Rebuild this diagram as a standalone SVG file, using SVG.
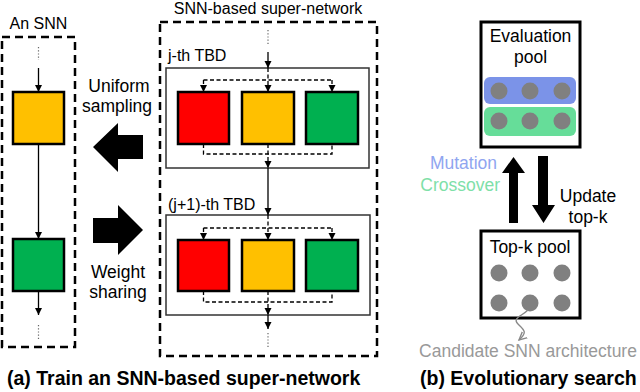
<svg xmlns="http://www.w3.org/2000/svg" width="640" height="392" viewBox="0 0 640 392">
<style>
text{font-family:"Liberation Sans",Arial,sans-serif;fill:#000}
.lbl{font-size:17.5px}
.cap{font-size:19.5px;font-weight:bold}
.outer{fill:none;stroke:#000;stroke-width:2.5;stroke-dasharray:8,5}
.tbd{fill:#fff;stroke:#333;stroke-width:1.5}
.blk{stroke:#000;stroke-width:2.5}
.red{fill:#FF0000}.yel{fill:#FFC000}.grn{fill:#00B050}
.ln{fill:none;stroke:#000;stroke-width:1.3}
.dl{fill:none;stroke:#000;stroke-width:1.3;stroke-dasharray:4,2.5}
.dot{fill:none;stroke:#666;stroke-width:1.2;stroke-dasharray:1.2,2}
.pool{fill:#fff;stroke:#000;stroke-width:3}
.c{fill:#808080}
</style>
<defs>
<marker id="ah" markerWidth="8" markerHeight="8" refX="7" refY="4" orient="auto" markerUnits="userSpaceOnUse">
<path d="M0,0.5 L7,4 L0,7.5 z" fill="#000"/>
</marker>
<marker id="ahg" markerWidth="10" markerHeight="10" refX="8" refY="5" orient="auto" markerUnits="userSpaceOnUse">
<path d="M0,1 L8,5 L0,9" fill="none" stroke="#888" stroke-width="1.4"/>
</marker>
</defs>

<!-- (a) An SNN -->
<g id="an-snn">
<rect class="outer" x="2" y="37" width="73" height="310"/>
<text x="38.5" y="29" font-size="16" text-anchor="middle">An SNN</text>
</g>
<g id="snn-yellow"><rect class="blk yel" x="13" y="92" width="51" height="52"/></g>
<g id="snn-green"><rect class="blk grn" x="13" y="239" width="51" height="52"/></g>

<!-- super-network -->
<g id="super-network">
<rect class="outer" x="160" y="22" width="217" height="334"/>
<text x="268" y="14" font-size="16" text-anchor="middle">SNN-based super-network</text>
</g>
<g id="tbd-j">
<rect class="tbd" x="166" y="68" width="203" height="100"/>
<text x="168" y="61" font-size="16">j-th TBD</text>
</g>
<g id="tbd-j-red"><rect class="blk red" x="178" y="92" width="51" height="52"/></g>
<g id="tbd-j-yel"><rect class="blk yel" x="242" y="92" width="52" height="52"/></g>
<g id="tbd-j-grn"><rect class="blk grn" x="306" y="92" width="52" height="52"/></g>
<g id="tbd-j1">
<rect class="tbd" x="166" y="215" width="204" height="100"/>
<text x="168" y="210" font-size="16">(j+1)-th TBD</text>
</g>
<g id="tbd-j1-red"><rect class="blk red" x="178" y="240" width="51" height="51"/></g>
<g id="tbd-j1-yel"><rect class="blk yel" x="242" y="240" width="52" height="51"/></g>
<g id="tbd-j1-grn"><rect class="blk grn" x="306" y="240" width="52" height="51"/></g>

<!-- middle labels and big arrows -->
<g id="uniform-sampling">
<polygon points="93,147 118,123 118,135 143,135 143,159 118,159 118,172" fill="#000"/>
<text class="lbl" x="119" y="92" text-anchor="middle">Uniform</text>
<text class="lbl" x="117" y="112" text-anchor="middle">sampling</text>
</g>
<g id="weight-sharing">
<polygon points="93,218 118,218 118,205 143,230 118,255 118,243 93,243" fill="#000"/>
<text class="lbl" x="118" y="278" text-anchor="middle">Weight</text>
<text class="lbl" x="118" y="298" text-anchor="middle">sharing</text>
</g>

<!-- (b) -->
<g id="evaluation-pool">
<rect class="pool" x="481" y="22" width="99" height="125"/>
<text class="lbl" x="530.5" y="42" text-anchor="middle">Evaluation</text>
<text class="lbl" x="530.5" y="63" text-anchor="middle">pool</text>
<rect x="484" y="77" width="92" height="27" rx="6" fill="#7B93E8"/>
<rect x="484" y="107" width="92" height="29" rx="6" fill="#66DD99"/>
<circle class="c" cx="499" cy="91" r="8.5"/><circle class="c" cx="530" cy="91" r="8.5"/><circle class="c" cx="562" cy="91" r="8.5"/>
<circle class="c" cx="499" cy="121" r="8.5"/><circle class="c" cx="530" cy="121" r="8.5"/><circle class="c" cx="562" cy="121" r="8.5"/>
</g>
<g id="topk-pool">
<rect class="pool" x="481" y="231" width="99" height="87"/>
<text class="lbl" x="530" y="253" text-anchor="middle">Top-k pool</text>
<circle class="c" cx="499" cy="273" r="8.5"/><circle class="c" cx="530" cy="273" r="8.5"/><circle class="c" cx="562" cy="273" r="8.5"/>
<circle class="c" cx="499" cy="303" r="8.5"/><circle class="c" cx="530" cy="303" r="8.5"/><circle class="c" cx="562" cy="303" r="8.5"/>
</g>
<g id="mutation-crossover">
<polygon points="513.5,157 525,173 518,173 518,223 509,223 509,173 502,173" fill="#000"/>
<text class="lbl" x="497" y="169" text-anchor="end" style="fill:#8FA5F0">Mutation</text>
<text class="lbl" x="500" y="191" text-anchor="end" style="fill:#7EE0A8">Crossover</text>
</g>
<g id="update-topk">
<polygon points="538,156 548,156 548,205 555,205 543.5,223 532,205 538,205" fill="#000"/>
<text class="lbl" x="588" y="202" text-anchor="middle">Update</text>
<text class="lbl" x="588" y="223" text-anchor="middle">top-k</text>
</g>
<g id="candidate">
<text class="lbl" x="528" y="357" text-anchor="middle" style="fill:#999">Candidate SNN architecture</text>
</g>

<!-- captions -->
<text class="cap" x="7" y="385">(a) Train an SNN-based super-network</text>
<text class="cap" x="420" y="385">(b) Evolutionary search</text>

<!-- connectors -->
<g id="connectors">
<!-- left SNN -->
<path class="dot" d="M38.5,47 V60"/>
<path class="ln" d="M38.5,68 V92" marker-end="url(#ah)"/>
<path class="ln" d="M38.5,144 V239" marker-end="url(#ah)"/>
<path class="ln" d="M38.5,291 V315" marker-end="url(#ah)"/>
<path class="dot" d="M38.5,325 V340"/>
<!-- super-network -->
<path class="dot" d="M268,30 V44"/>
<path class="ln" d="M268,52 V68" marker-end="url(#ah)"/>
<path class="dl" d="M268,68 V92" marker-end="url(#ah)"/>
<path class="dl" d="M203.5,80 H332"/>
<path class="dl" d="M203.5,80 V92" marker-end="url(#ah)"/>
<path class="dl" d="M332,80 V92" marker-end="url(#ah)"/>
<path class="dl" d="M203.5,144 V154 H332 V144"/>
<path class="dl" d="M268,144 V168" marker-end="url(#ah)"/>
<path class="ln" d="M268,168 V215" marker-end="url(#ah)"/>
<path class="dl" d="M268,215 V240" marker-end="url(#ah)"/>
<path class="dl" d="M203.5,228 H332"/>
<path class="dl" d="M203.5,228 V240" marker-end="url(#ah)"/>
<path class="dl" d="M332,228 V240" marker-end="url(#ah)"/>
<path class="dl" d="M203.5,291 V302 H332 V291"/>
<path class="dl" d="M268,291 V315" marker-end="url(#ah)"/>
<path class="ln" d="M268,315 V329" marker-end="url(#ah)"/>
<path class="dot" d="M268,333 V347"/>
<!-- candidate squiggle -->
<path d="M528,310 C522,316 512,318 518,324 C524,330 528,332 519,340" fill="none" stroke="#888" stroke-width="1.4" marker-end="url(#ahg)"/>
</g>
</svg>
